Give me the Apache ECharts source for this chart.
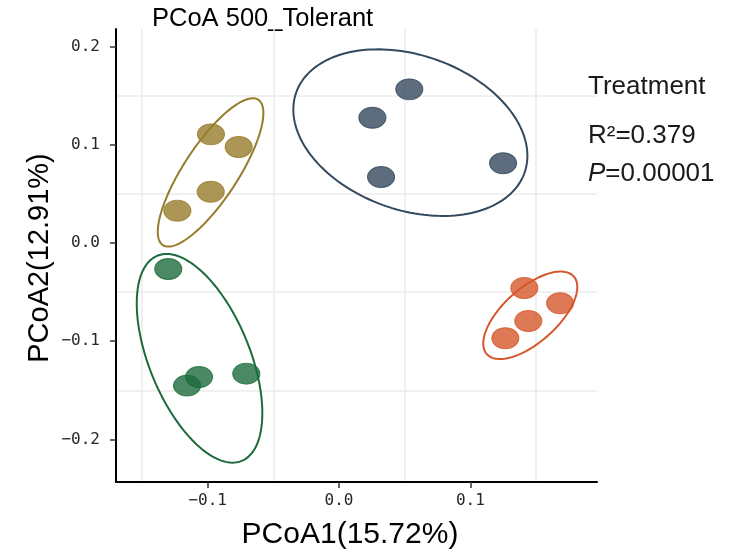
<!DOCTYPE html>
<html>
<head>
<meta charset="utf-8">
<script src="https://cdn.jsdelivr.net/npm/echarts@6/dist/echarts.min.js"></script>
<style>html,body{margin:0;padding:0;background:#fff}#chart{width:733px;height:553px}</style>
</head>
<body>
<div id="chart"></div>
<script>
// ---- data ----
const chartTitle = 'PCoA 500_Tolerant';
const xAxisTitle = 'PCoA1(15.72%)';
const yAxisTitle = 'PCoA2(12.91%)';
const xTickValues = [-0.1, 0.0, 0.1];
const yTickValues = [-0.2, -0.1, 0.0, 0.1, 0.2];
const xGridValues = [-0.15, -0.05, 0.05, 0.15];
const yGridValues = [-0.15, -0.05, 0.05, 0.15];
const xRange = [-0.1698, 0.1964];
const yRange = [-0.2433, 0.2178];
const statLines = ['Treatment', 'R²=0.379', 'P=0.00001'];

// points [PCoA1, PCoA2]
const groupBrown  = [[-0.0975, 0.1106], [-0.0764, 0.0977], [-0.0977, 0.0522], [-0.1231, 0.0329]];
const groupGreen  = [[-0.1300, -0.0265], [-0.1066, -0.1364], [-0.1157, -0.1452], [-0.0706, -0.1330]];
const groupBlue   = [[0.0535, 0.1564], [0.0254, 0.1275], [0.0320, 0.0672], [0.1249, 0.0811]];
const groupOrange = [[0.1411, -0.0458], [0.1683, -0.0614], [0.1441, -0.0794], [0.1266, -0.0970]];

// ellipses [centerX, centerY, halfWidthX, halfHeightY, correlation]
const ellipseBrown  = [-0.0978, 0.0718, 0.0402, 0.0755, 0.80];
const ellipseGreen  = [-0.1062, -0.1174, 0.0478, 0.1062, -0.525];
const ellipseBlue   = [0.0543, 0.1123, 0.0891, 0.0848, -0.277];
const ellipseOrange = [0.1456, -0.0736, 0.0358, 0.0445, 0.645];

const colors = { brown: '#977c2b', green: '#1d6b3c', blue: '#34495e', orange: '#d4582b' };

const groups = [
  { name: 'brown', pts: groupBrown, ell: ellipseBrown },
  { name: 'green', pts: groupGreen, ell: ellipseGreen },
  { name: 'blue', pts: groupBlue, ell: ellipseBlue },
  { name: 'orange', pts: groupOrange, ell: ellipseOrange }
];

function ellipseRenderer(color) {
  return function (params, api) {
    const cx = api.value(0), cy = api.value(1), sx = api.value(2), sy = api.value(3), r = api.value(4);
    const k = Math.sqrt(1 - r * r);
    const pts = [];
    const N = 160;
    for (let i = 0; i <= N; i++) {
      const t = 2 * Math.PI * i / N;
      pts.push(api.coord([cx + sx * Math.cos(t), cy + sy * (r * Math.cos(t) + k * Math.sin(t))]));
    }
    return { type: 'polyline', shape: { points: pts }, style: { stroke: color, lineWidth: 2, fill: null } };
  };
}

const fmt = v => v.toFixed(1).replace('-', '\u2212');
const tickFont = { fontFamily: 'DejaVu Sans Mono', fontSize: 16, color: '#262626' };

const series = [];
groups.forEach(g => {
  series.push({
    type: 'custom', name: g.name + ' ellipse', renderItem: ellipseRenderer(colors[g.name]),
    data: [g.ell], encode: { x: 0, y: 1 }, silent: true, z: 2, clip: false
  });
  series.push({
    type: 'scatter', name: g.name, data: g.pts, symbol: 'circle', symbolSize: [27, 21], z: 3,
    itemStyle: { color: colors[g.name], borderColor: colors[g.name], borderWidth: 1, opacity: 0.8 }
  });
});

const chart = echarts.init(document.getElementById('chart'), null, { renderer: 'canvas' });
chart.setOption({
  animation: false,
  backgroundColor: '#fff',
  grid: { left: 116, right: 136, top: 29, bottom: 71 },
  xAxis: [
    { type: 'value', min: xRange[0], max: xRange[1], position: 'bottom',
      axisLine: { show: true, onZero: false, lineStyle: { color: '#000', width: 2 } },
      axisTick: { show: true, customValues: xTickValues, length: 6, lineStyle: { color: '#333', width: 1.5 } },
      axisLabel: Object.assign({ customValues: xTickValues, formatter: fmt, margin: 11 }, tickFont),
      splitLine: { show: false } },
    { type: 'value', min: xRange[0], max: xRange[1], position: 'bottom',
      axisLine: { show: false }, axisTick: { show: false, customValues: xGridValues },
      axisLabel: { show: false, customValues: xGridValues },
      splitLine: { show: true, lineStyle: { color: '#ebebeb', width: 1.5 } } }
  ],
  yAxis: [
    { type: 'value', min: yRange[0], max: yRange[1], position: 'left',
      axisLine: { show: true, onZero: false, lineStyle: { color: '#000', width: 2 } },
      axisTick: { show: true, customValues: yTickValues, length: 6, lineStyle: { color: '#333', width: 1.5 } },
      axisLabel: Object.assign({ customValues: yTickValues, formatter: fmt, margin: 16 }, tickFont),
      splitLine: { show: false } },
    { type: 'value', min: yRange[0], max: yRange[1], position: 'left',
      axisLine: { show: false }, axisTick: { show: false, customValues: yGridValues },
      axisLabel: { show: false, customValues: yGridValues },
      splitLine: { show: true, lineStyle: { color: '#ebebeb', width: 1.5 } } }
  ],
  series: series,
  graphic: [
    { type: 'text', left: 152, top: 6, style: { text: chartTitle, font: '25.5px "Liberation Sans"', fill: '#000' } },
    { type: 'text', x: 350, y: 535, style: { text: xAxisTitle, font: '30px "Liberation Sans"', fill: '#000', align: 'center', verticalAlign: 'middle' } },
    { type: 'text', x: 40, y: 258, rotation: Math.PI / 2, style: { text: yAxisTitle, font: '29px "Liberation Sans"', fill: '#000', align: 'center', verticalAlign: 'middle' } },
    { type: 'text', x: 588, y: 87, style: { text: statLines[0], font: '26px "Liberation Sans"', fill: '#1a1a1a', align: 'left', verticalAlign: 'middle' } },
    { type: 'text', x: 588, y: 136, style: { text: statLines[1], font: '26px "Liberation Sans"', fill: '#1a1a1a', align: 'left', verticalAlign: 'middle' } },
    { type: 'text', x: 588, y: 174, style: {
        text: '{i|' + statLines[2].slice(0, 1) + '}{n|' + statLines[2].slice(1) + '}',
        rich: { i: { fontFamily: 'Liberation Sans', fontSize: 26, fontStyle: 'italic', fill: '#1a1a1a' },
                n: { fontFamily: 'Liberation Sans', fontSize: 26, fill: '#1a1a1a' } },
        align: 'left', verticalAlign: 'middle' } }
  ]
});
</script>
</body>
</html>
